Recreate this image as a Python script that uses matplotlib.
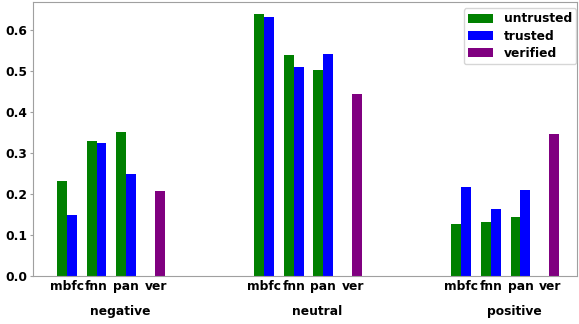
import numpy as np
import matplotlib
matplotlib.use("Agg")
import matplotlib.pyplot as plt

groups = ["negative", "neutral", "positive"]
sources = ["mbfc", "fnn", "pan"]
untrusted = [[0.232, 0.328, 0.350],
             [0.638, 0.539, 0.503],
             [0.128, 0.131, 0.144]]
trusted = [[0.149, 0.325, 0.249],
           [0.632, 0.509, 0.541],
           [0.217, 0.164, 0.210]]
verified = [0.207, 0.443, 0.346]

plt.rcParams["font.weight"] = "bold"
plt.rcParams["font.size"] = 8.8

fig, ax = plt.subplots(figsize=(5.79, 3.24), dpi=100)
w = 0.25
offset = 5.0
src_pos = np.array([0.0, 0.75, 1.5])
ver_pos = 2.35

ticks, labels = [], []
for g in range(3):
    base = g * offset
    ax.bar(base + src_pos - w / 2, untrusted[g], w, color="green",
           label="untrusted" if g == 0 else None)
    ax.bar(base + src_pos + w / 2, trusted[g], w, color="blue",
           label="trusted" if g == 0 else None)
    ax.bar(base + ver_pos, verified[g], w, color="purple",
           label="verified" if g == 0 else None)
    ticks += list(base + src_pos) + [base + ver_pos - 0.1]
    labels += sources + ["ver"]
    ax.text(base + 1.35, -0.128, groups[g],
            transform=ax.get_xaxis_transform(), ha="center", va="center",
            fontweight="bold")

ax.set_xticks(ticks)
ax.set_xticklabels(labels, fontweight="bold")
ax.set_xlim(-0.86, 12.94)
ax.set_ylim(0, 0.668)
ax.set_yticks([0, 0.1, 0.2, 0.3, 0.4, 0.5, 0.6])
ax.tick_params(axis="y", length=2, width=0.8, color="#a0a0a0", pad=2)
ax.tick_params(axis="x", length=0, pad=3)
for s in ax.spines.values():
    s.set_color("#a0a0a0")
ax.legend(loc="upper right", bbox_to_anchor=(1.0, 0.982), borderaxespad=0.1,
          handlelength=2.0, handleheight=0.75, labelspacing=0.36,
          handletextpad=0.9, borderpad=0.35)

fig.subplots_adjust(left=0.057, right=0.997, top=0.994, bottom=0.148)
fig.savefig("out.png", dpi=100)
